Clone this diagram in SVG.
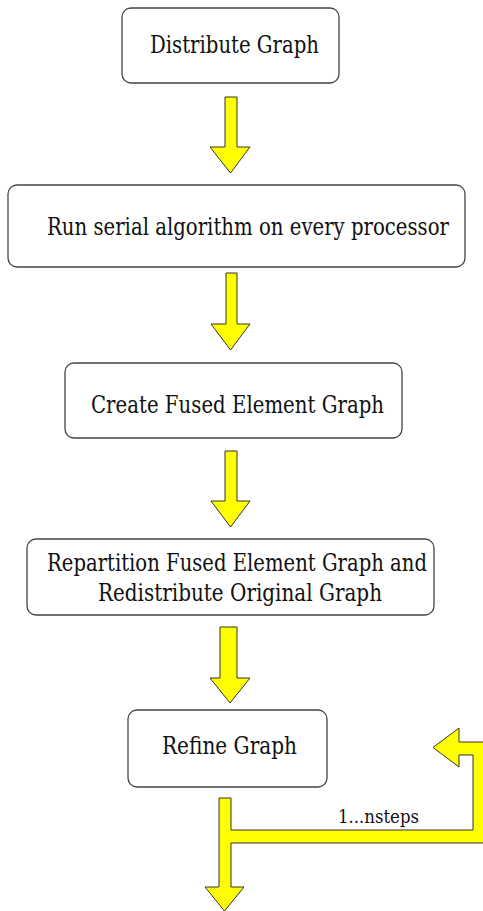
<svg xmlns="http://www.w3.org/2000/svg" width="483" height="911" viewBox="0 0 483 911">
<style>
.box{fill:#fff;stroke:#444;stroke-width:1.3}
.t{font-family:'DejaVu Serif','Liberation Serif',serif;font-size:24px;fill:#111}
.arr{fill:#ffff00;stroke:#333;stroke-width:1;stroke-linejoin:miter}
.lbl{font-family:'DejaVu Serif','Liberation Serif',serif;font-size:18px;fill:#111}
</style>
<rect width="483" height="911" fill="#fff"/>
<g id="n1"><rect class="box" x="122" y="8" width="217" height="75" rx="9"/><text class="t" x="150" y="53" textLength="169" lengthAdjust="spacingAndGlyphs">Distribute Graph</text></g>
<g id="n2"><rect class="box" x="8" y="185" width="457" height="82" rx="9"/><text class="t" x="47" y="235" textLength="402" lengthAdjust="spacingAndGlyphs">Run serial algorithm on every processor</text></g>
<g id="n3"><rect class="box" x="65" y="363" width="337" height="75" rx="9"/><text class="t" x="91" y="413" textLength="293" lengthAdjust="spacingAndGlyphs">Create Fused Element Graph</text></g>
<g id="n4"><rect class="box" x="27" y="539" width="407" height="76" rx="9"/><text class="t" x="47" y="571" textLength="380" lengthAdjust="spacingAndGlyphs">Repartition Fused Element Graph and</text><text class="t" x="98" y="601" textLength="284" lengthAdjust="spacingAndGlyphs">Redistribute Original Graph</text></g>
<g id="n5"><rect class="box" x="128" y="710" width="199" height="77" rx="9"/><text class="t" x="162" y="754" textLength="135" lengthAdjust="spacingAndGlyphs">Refine Graph</text></g>
<g id="connectors">
<polygon class="arr" points="225,97 237,97 237,147 250,147 230.5,173 210,147 225,147"/>
<polygon class="arr" points="226,273 237,273 237,324 250,324 230.5,350 211,324 226,324"/>
<polygon class="arr" points="225,451 237,451 237,501 250,501 230.5,527 211,501 225,501"/>
<polygon class="arr" points="220,627 237,627 237,678 250,678 230,703 210,678 220,678"/>
<polygon class="arr" points="219,798 231,798 231,830 473,830 473,755 459,755 459,767 433,747.5 459,728 459,742 488,742 488,843 231,843 231,887 244,887 224.5,911 205,887 219,887"/>
<text class="lbl" x="338" y="823" textLength="81" lengthAdjust="spacingAndGlyphs">1...nsteps</text>
</g>
</svg>
